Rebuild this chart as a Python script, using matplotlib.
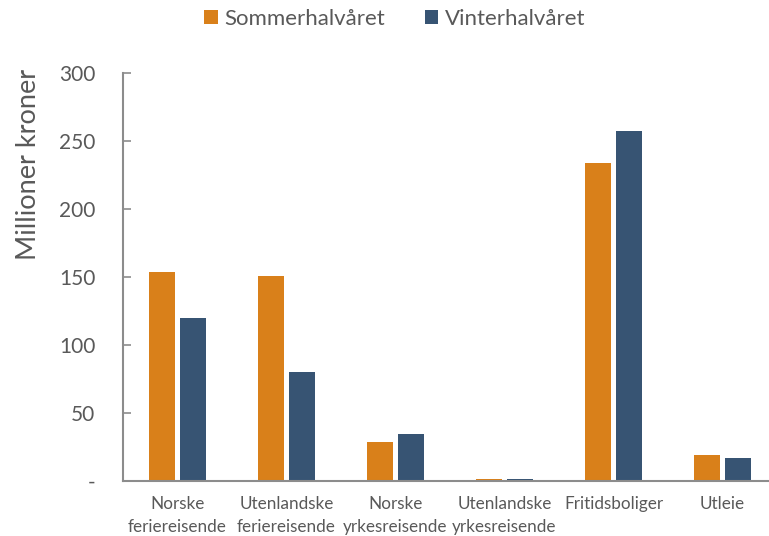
import numpy as np
import matplotlib.pyplot as plt

# data
categories = ["Norske\nferiereisende", "Utenlandske\nferiereisende", "Norske\nyrkesreisende",
              "Utenlandske\nyrkesreisende", "Fritidsboliger", "Utleie"]
sommer = [154, 151, 28.5, 1.5, 234, 19]
vinter = [120, 80, 34.5, 1.8, 257, 17]

orange = "#D9801A"
blue = "#375473"
gray = "#595959"

plt.rcParams['font.family'] = ['Lato', 'DejaVu Sans']

fig = plt.figure(figsize=(7.69, 5.36), dpi=100)
ax = fig.add_axes([123 / 769, 1 - 481 / 536, 654 / 769, 408 / 536])

x = np.arange(len(categories))
w = 0.23
ax.bar(x - 0.142, sommer, w, color=orange, label="Sommerhalvåret")
ax.bar(x + 0.142, vinter, w, color=blue, label="Vinterhalvåret")

ax.set_xlim(-0.5, len(categories) - 0.5)
ax.set_ylim(0, 300)
ax.set_yticks([0, 50, 100, 150, 200, 250, 300])
ax.set_yticklabels(["-", "50", "100", "150", "200", "250", "300"])
ax.set_xticks(x)
ax.set_xticklabels(categories, fontsize=12.3, color=gray, linespacing=1.55)

for s in ["top", "right"]:
    ax.spines[s].set_visible(False)
for s in ["left", "bottom"]:
    ax.spines[s].set_color("#8C8C8C")
    ax.spines[s].set_linewidth(1.5)

ax.tick_params(axis="y", direction="in", length=6, width=1.2, color="#8C8C8C",
               labelsize=15, labelcolor=gray, pad=20)
ax.tick_params(axis="x", length=0, pad=11)

ax.set_ylabel("Millioner kroner", fontsize=19.5, color=gray)
ax.yaxis.set_label_coords(-0.125, 0.777)

fig.legend(loc="center", bbox_to_anchor=(395 / 769, 1 - 19 / 536), ncol=2, frameon=False,
           fontsize=16, labelcolor=gray, handlelength=0.6, handleheight=0.6,
           handletextpad=0.3, columnspacing=1.8)

plt.savefig("out.png", dpi=100)
